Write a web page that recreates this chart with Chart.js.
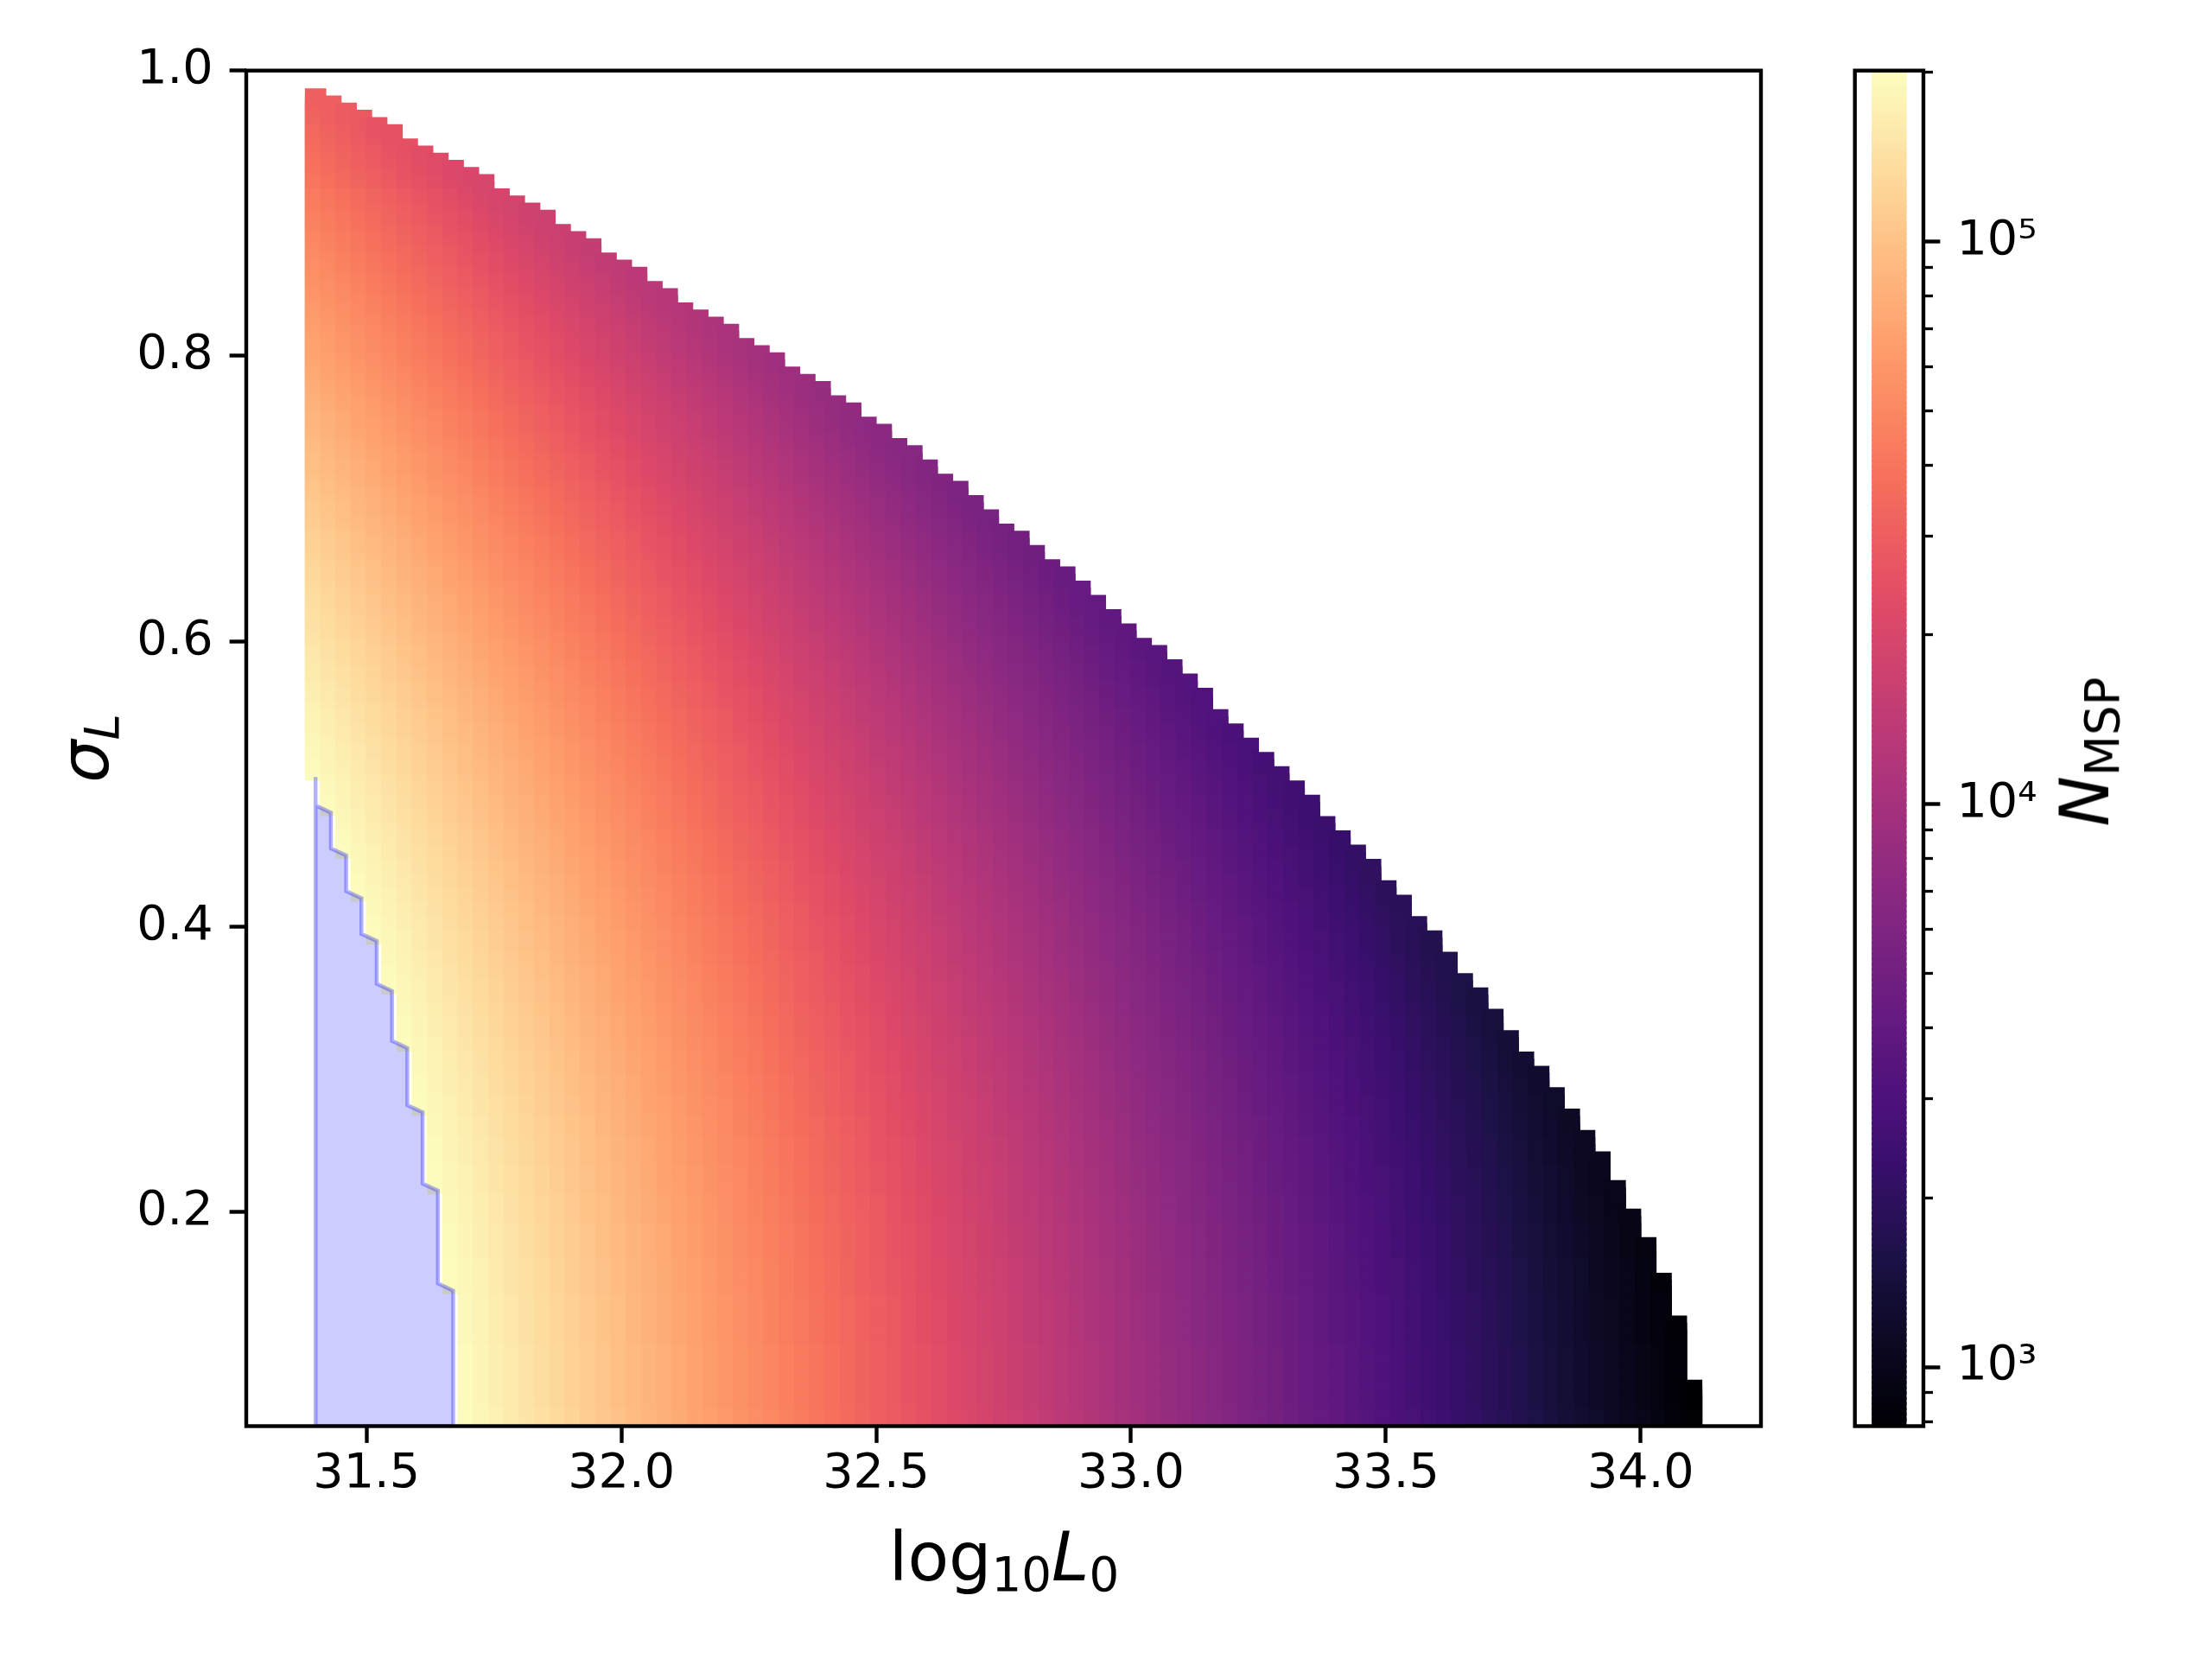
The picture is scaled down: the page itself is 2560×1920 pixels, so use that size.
<!DOCTYPE html>
<html>
<head>
<meta charset="utf-8">
<script src="https://cdn.jsdelivr.net/npm/chart.js@4.4.1/dist/chart.umd.min.js"></script>
<style>
  body { margin: 0; background: #fff; }
  #wrap { position: relative; width: 2560px; height: 1920px; overflow: hidden; font-family: 'DejaVu Sans', sans-serif; color: #000; }
  canvas { position: absolute; top: 0; }
  .lab { position: absolute; white-space: nowrap; line-height: 1; font-size: 78px; }
  .lab sub { font-size: 70%; vertical-align: -0.22em; line-height: 0; }
  #xlab { left: 1162px; top: 1763px; transform: translateX(-50%); }
  #ylab { left: 98px; top: 866px; transform: translate(-50%, -50%) rotate(-90deg); }
  #clab { left: 2413px; top: 870px; transform: translate(-50%, -50%) rotate(-90deg); }
</style>
</head>
<body>
<div id="wrap">
  <canvas id="main" width="2560" height="1920" style="left:0"></canvas>
  <canvas id="cbar" width="460" height="1920" style="left:2100px"></canvas>
  <div class="lab" id="xlab">log<sub>10</sub><i>L</i><sub>0</sub></div>
  <div class="lab" id="ylab"><i>σ</i><sub><i>L</i></sub></div>
  <div class="lab" id="clab"><i>N</i><sub>MSP</sub></div>
</div>
<script>
// grid of log10 L0 (column centres)
const L0_grid = [
  31.40,31.43,31.46,31.49,31.52,31.55,31.58,31.61,31.64,31.67,
  31.70,31.73,31.76,31.79,31.82,31.85,31.88,31.91,31.94,31.97,
  32.00,32.03,32.06,32.09,32.12,32.15,32.18,32.21,32.24,32.27,
  32.30,32.33,32.36,32.39,32.42,32.45,32.48,32.51,32.54,32.57,
  32.60,32.63,32.66,32.69,32.72,32.75,32.78,32.81,32.84,32.87,
  32.90,32.93,32.96,32.99,33.02,33.05,33.08,33.11,33.14,33.17,
  33.20,33.23,33.26,33.29,33.32,33.35,33.38,33.41,33.44,33.47,
  33.50,33.53,33.56,33.59,33.62,33.65,33.68,33.71,33.74,33.77,
  33.80,33.83,33.86,33.89,33.92,33.95,33.98,34.01,34.04,34.07,
  34.10
];

// grid of sigma_L (rows)
const sigmaGrid = [
  0.05,0.055,0.06,0.065,0.07,0.075,0.08,0.085,0.09,0.095,
  0.1,0.105,0.11,0.115,0.12,0.125,0.13,0.135,0.14,0.145,
  0.15,0.155,0.16,0.165,0.17,0.175,0.18,0.185,0.19,0.195,
  0.2,0.205,0.21,0.215,0.22,0.225,0.23,0.235,0.24,0.245,
  0.25,0.255,0.26,0.265,0.27,0.275,0.28,0.285,0.29,0.295,
  0.3,0.305,0.31,0.315,0.32,0.325,0.33,0.335,0.34,0.345,
  0.35,0.355,0.36,0.365,0.37,0.375,0.38,0.385,0.39,0.395,
  0.4,0.405,0.41,0.415,0.42,0.425,0.43,0.435,0.44,0.445,
  0.45,0.455,0.46,0.465,0.47,0.475,0.48,0.485,0.49,0.495,
  0.5,0.505,0.51,0.515,0.52,0.525,0.53,0.535,0.54,0.545,
  0.55,0.555,0.56,0.565,0.57,0.575,0.58,0.585,0.59,0.595,
  0.6,0.605,0.61,0.615,0.62,0.625,0.63,0.635,0.64,0.645,
  0.65,0.655,0.66,0.665,0.67,0.675,0.68,0.685,0.69,0.695,
  0.7,0.705,0.71,0.715,0.72,0.725,0.73,0.735,0.74,0.745,
  0.75,0.755,0.76,0.765,0.77,0.775,0.78,0.785,0.79,0.795,
  0.8,0.805,0.81,0.815,0.82,0.825,0.83,0.835,0.84,0.845,
  0.85,0.855,0.86,0.865,0.87,0.875,0.88,0.885,0.89,0.895,
  0.9,0.905,0.91,0.915,0.92,0.925,0.93,0.935,0.94,0.945,
  0.95,0.955,0.96,0.965,0.97,0.975,0.98
];

// log10 N_MSP at the bottom of each column
const logN_col = [
  5.60,5.57,5.54,5.51,5.48,5.45,5.42,5.39,5.36,5.33,
  5.30,5.27,5.24,5.21,5.18,5.15,5.12,5.09,5.06,5.03,
  5.00,4.97,4.94,4.91,4.88,4.85,4.82,4.79,4.76,4.73,
  4.70,4.67,4.64,4.61,4.58,4.55,4.52,4.49,4.46,4.43,
  4.40,4.37,4.34,4.31,4.28,4.25,4.22,4.19,4.16,4.13,
  4.10,4.07,4.04,4.01,3.98,3.95,3.92,3.89,3.86,3.83,
  3.80,3.77,3.74,3.71,3.68,3.65,3.62,3.59,3.56,3.53,
  3.50,3.47,3.44,3.41,3.38,3.35,3.32,3.29,3.26,3.23,
  3.20,3.17,3.14,3.11,3.08,3.05,3.02,2.99,2.96,2.93,
  2.90
];

// how much log10 N drops going up each row
const logN_drop = [
  0.00,0.00,0.00,0.00,0.01,0.01,0.01,0.01,0.01,0.01,
  0.01,0.01,0.01,0.02,0.02,0.02,0.02,0.02,0.02,0.02,
  0.03,0.03,0.03,0.03,0.03,0.04,0.04,0.04,0.04,0.04,
  0.05,0.05,0.05,0.05,0.06,0.06,0.06,0.06,0.07,0.07,
  0.07,0.07,0.08,0.08,0.08,0.09,0.09,0.09,0.10,0.10,
  0.10,0.11,0.11,0.11,0.12,0.12,0.13,0.13,0.13,0.14,
  0.14,0.15,0.15,0.15,0.16,0.16,0.17,0.17,0.18,0.18,
  0.18,0.19,0.19,0.20,0.20,0.21,0.21,0.22,0.22,0.23,
  0.23,0.24,0.24,0.25,0.25,0.26,0.27,0.27,0.28,0.28,
  0.29,0.29,0.30,0.31,0.31,0.32,0.32,0.33,0.34,0.34,
  0.35,0.35,0.36,0.37,0.37,0.38,0.39,0.39,0.40,0.41,
  0.41,0.42,0.43,0.44,0.44,0.45,0.46,0.46,0.47,0.48,
  0.49,0.49,0.50,0.51,0.52,0.52,0.53,0.54,0.55,0.56,
  0.56,0.57,0.58,0.59,0.60,0.61,0.61,0.62,0.63,0.64,
  0.65,0.66,0.66,0.67,0.68,0.69,0.70,0.71,0.72,0.73,
  0.74,0.75,0.76,0.76,0.77,0.78,0.79,0.80,0.81,0.82,
  0.83,0.84,0.85,0.86,0.87,0.88,0.89,0.90,0.91,0.92,
  0.93,0.94,0.95,0.96,0.97,0.99,1.00,1.01,1.02,1.03,
  1.04,1.05,1.06,1.07,1.08,1.09,1.11
];

// highest sigma drawn in each column
const sigmaTop = [
  0.98,0.975,0.97,0.965,0.96,0.955,0.945,0.94,0.935,0.93,
  0.925,0.92,0.91,0.905,0.9,0.895,0.885,0.88,0.875,0.865,
  0.86,0.855,0.845,0.84,0.83,0.825,0.82,0.815,0.805,0.8,
  0.795,0.785,0.78,0.775,0.765,0.76,0.75,0.745,0.735,0.73,
  0.72,0.71,0.705,0.695,0.685,0.675,0.67,0.66,0.65,0.645,
  0.635,0.625,0.615,0.605,0.595,0.59,0.58,0.57,0.56,0.545,
  0.535,0.525,0.515,0.505,0.495,0.485,0.47,0.46,0.45,0.44,
  0.425,0.415,0.4,0.39,0.375,0.36,0.35,0.335,0.32,0.305,
  0.295,0.28,0.265,0.25,0.235,0.215,0.195,0.175,0.15,0.12,
  0.075
];

// lowest sigma drawn in the first columns (below it: excluded, blue)
const sigmaLow = [0.51, 0.485, 0.455, 0.425, 0.395, 0.36, 0.32, 0.275, 0.22, 0.15, 0.05];

const xTicks = [31.5, 32.0, 32.5, 33.0, 33.5, 34.0];
const yTicks = [0.2, 0.4, 0.6, 0.8, 1.0];
const nRange = [785, 2.014e5];
const cbarMajor = [1e3, 1e4, 1e5];
const cbarMinor = [800, 900, 2000, 3000, 4000, 5000, 6000, 7000, 8000, 9000,
                   20000, 30000, 40000, 50000, 60000, 70000, 80000, 90000, 200000];
const cbarLabels = { 1000: '10³', 10000: '10⁴', 100000: '10⁵' };

// magma colormap stops
const magmaStops = [
  [0.000, '#000004'], [0.100, '#140e36'], [0.125, '#1d1147'], [0.200, '#3b0f70'],
  [0.250, '#51127c'], [0.300, '#641a80'], [0.375, '#822681'], [0.400, '#8c2981'],
  [0.500, '#b73779'], [0.600, '#de4968'], [0.625, '#e65164'], [0.700, '#f7705c'],
  [0.750, '#fb8861'], [0.800, '#fe9f6d'], [0.875, '#fec287'], [0.900, '#fecf92'],
  [1.000, '#fcfdbf']
];
function hexRgb(h) {
  return [parseInt(h.slice(1, 3), 16), parseInt(h.slice(3, 5), 16), parseInt(h.slice(5, 7), 16)];
}
function magma(t) {
  t = Math.min(1, Math.max(0, t));
  for (let k = 1; k < magmaStops.length; k++) {
    if (t <= magmaStops[k][0]) {
      const [t0, c0] = magmaStops[k - 1], [t1, c1] = magmaStops[k];
      const f = (t - t0) / (t1 - t0);
      const a = hexRgb(c0), b = hexRgb(c1);
      return `rgb(${Math.round(a[0] + (b[0] - a[0]) * f)},${Math.round(a[1] + (b[1] - a[1]) * f)},${Math.round(a[2] + (b[2] - a[2]) * f)})`;
    }
  }
  return magmaStops[magmaStops.length - 1][1];
}

const logMin = Math.log10(nRange[0]);
const logMax = Math.log10(nRange[1]);

// heatmap cells
const cells = [];
const cellColors = [];
L0_grid.forEach((x, i) => {
  const lo = i < sigmaLow.length ? sigmaLow[i] : 0.05;
  sigmaGrid.forEach((s, j) => {
    if (s < lo - 1e-6 || s > sigmaTop[i] + 1e-6) return;
    const logN = logN_col[i] - logN_drop[j];
    cells.push({ x: x, y: s });
    cellColors.push(magma((logN - logMin) / (logMax - logMin)));
  });
});

// excluded region (step outline along the masked cells)
const rowStep = sigmaGrid[1] - sigmaGrid[0];
const blueRegion = [];
for (let k = 0; k < sigmaLow.length - 1; k++) {
  blueRegion.push({ x: L0_grid[k], y: sigmaLow[k] - rowStep });
  blueRegion.push({ x: L0_grid[k], y: sigmaLow[k + 1] });
}
blueRegion.push({ x: L0_grid[0], y: sigmaGrid[0] });
blueRegion.push({ x: L0_grid[0], y: sigmaLow[0] - rowStep });

Chart.defaults.font.family = "'DejaVu Sans'";
Chart.defaults.color = '#000';

const framePlugin = {
  id: 'frame',
  afterDraw(chart) {
    const { ctx, chartArea: a } = chart;
    ctx.save();
    ctx.strokeStyle = '#000';
    ctx.lineWidth = 4.4;
    ctx.strokeRect(a.left, a.top, a.right - a.left, a.bottom - a.top);
    ctx.restore();
  }
};

new Chart(document.getElementById('main'), {
  type: 'scatter',
  data: {
    datasets: [
      {
        type: 'line',
        data: blueRegion,
        fill: 'shape',
        backgroundColor: 'rgba(0,0,255,0.2)',
        borderColor: 'rgba(0,0,255,0.3)',
        borderWidth: 4.5,
        pointRadius: 0,
        tension: 0,
        order: 0
      },
      {
        data: cells,
        pointStyle: 'rect',
        pointRadius: 17.5,
        pointBorderWidth: 0,
        pointBackgroundColor: cellColors,
        clip: 0,
        order: 1
      }
    ]
  },
  options: {
    responsive: false,
    animation: false,
    events: [],
    layout: { padding: { left: 0, top: 81.7, right: 522, bottom: 0 } },
    plugins: { legend: { display: false }, tooltip: { enabled: false } },
    scales: {
      x: {
        type: 'linear',
        min: 31.264,
        max: 34.236,
        afterFit: s => { s.height = 269.5; },
        afterBuildTicks: s => { s.ticks = xTicks.map(v => ({ value: v })); },
        ticks: { callback: v => v.toFixed(1), font: { size: 55.6 }, color: '#000', padding: 3, maxRotation: 0 },
        grid: { drawOnChartArea: false, tickLength: 19.4, tickWidth: 4.4, tickColor: '#000' },
        border: { display: false }
      },
      y: {
        type: 'linear',
        min: 0.05,
        max: 1.0,
        afterFit: s => { s.width = 285; },
        afterBuildTicks: s => { s.ticks = yTicks.map(v => ({ value: v })); },
        ticks: { callback: v => v.toFixed(1), font: { size: 55.6 }, color: '#000', padding: 19 },
        grid: { drawOnChartArea: false, tickLength: 19.4, tickWidth: 4.4, tickColor: '#000' },
        border: { display: false }
      }
    }
  },
  plugins: [framePlugin]
});

// colour bar
const NSEG = 256;
const segs = [];
const segColors = [];
for (let k = 0; k < NSEG; k++) {
  const a = logMin + (logMax - logMin) * k / NSEG;
  const b = logMin + (logMax - logMin) * (k + 1.5) / NSEG;
  segs.push({ x: 0.5, y: [Math.pow(10, a), Math.pow(10, Math.min(b, logMax))] });
  segColors.push(magma((k + 0.5) / NSEG));
}

new Chart(document.getElementById('cbar'), {
  type: 'bar',
  data: {
    datasets: [{
      data: segs,
      backgroundColor: segColors,
      borderWidth: 0,
      barPercentage: 1,
      categoryPercentage: 1,
      xAxisID: 'x',
      yAxisID: 'y'
    }]
  },
  options: {
    responsive: false,
    animation: false,
    events: [],
    layout: { padding: { left: 46.7, top: 81.7, right: 0, bottom: 269.5 } },
    plugins: { legend: { display: false }, tooltip: { enabled: false } },
    scales: {
      x: { type: 'linear', min: 0, max: 1, display: false },
      yMinor: {
        type: 'logarithmic',
        position: 'right',
        weight: 0,
        min: nRange[0],
        max: nRange[1],
        afterFit: s => { s.width = 0; },
        afterBuildTicks: s => { s.ticks = cbarMinor.map(v => ({ value: v })); },
        ticks: { display: false },
        grid: { drawOnChartArea: false, tickLength: 11, tickWidth: 3.3, tickColor: '#000' },
        border: { display: false }
      },
      y: {
        type: 'logarithmic',
        position: 'right',
        weight: 1,
        min: nRange[0],
        max: nRange[1],
        afterFit: s => { s.width = 334; },
        afterBuildTicks: s => { s.ticks = cbarMajor.map(v => ({ value: v })); },
        ticks: { callback: v => cbarLabels[v] || '', font: { size: 55.6 }, color: '#000', padding: 19 },
        grid: { drawOnChartArea: false, tickLength: 19.4, tickWidth: 4.4, tickColor: '#000' },
        border: { display: false }
      }
    }
  },
  plugins: [framePlugin]
});
</script>
</body>
</html>
